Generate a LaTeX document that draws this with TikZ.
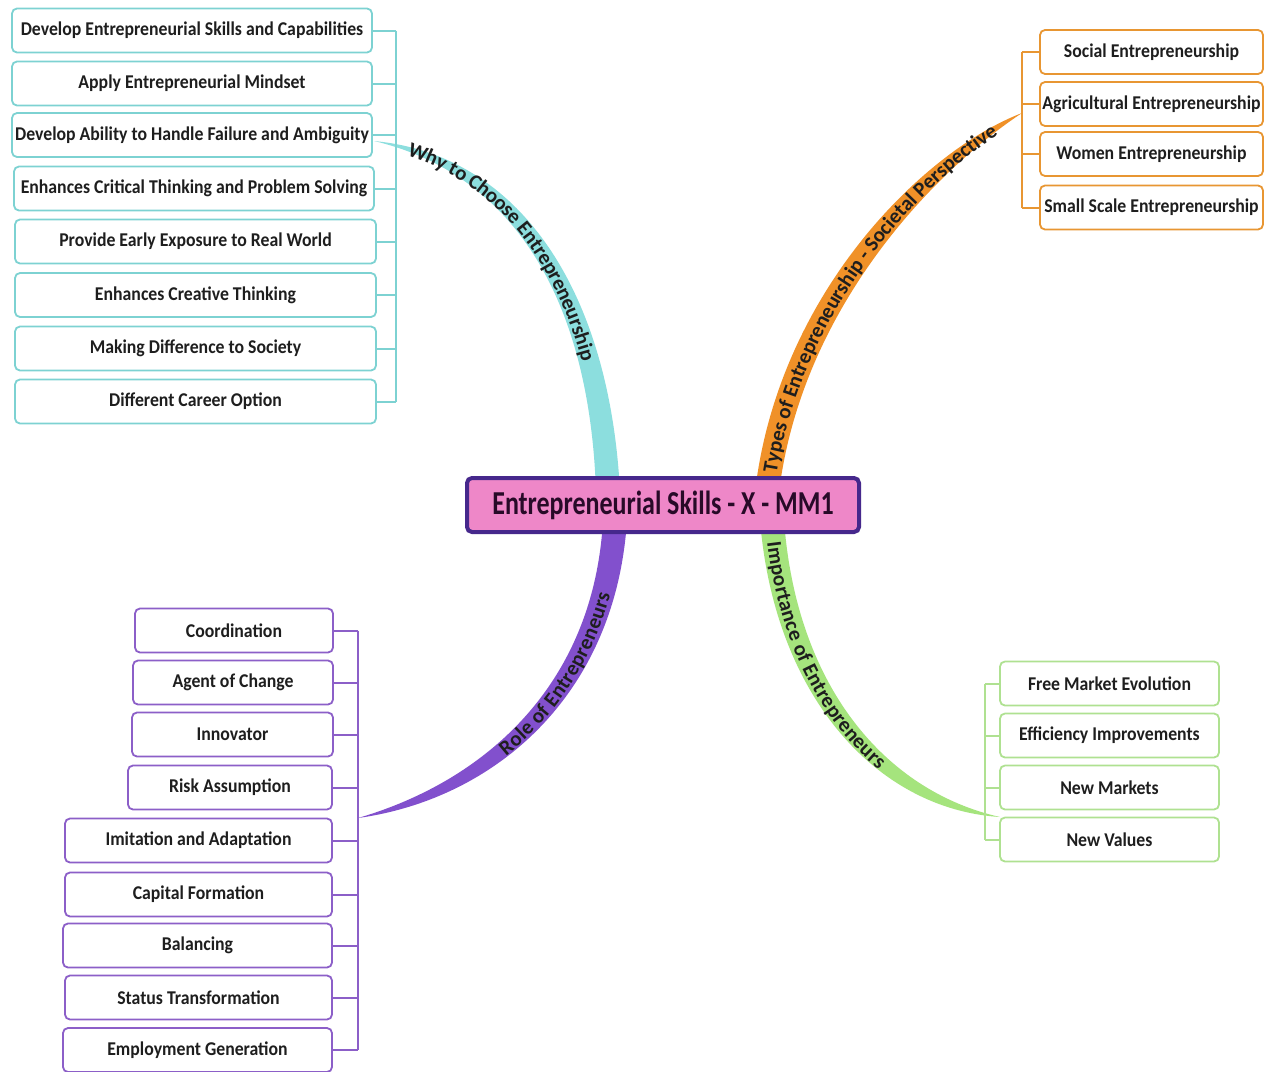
\documentclass[tikz,border=0pt]{standalone}
\usepackage{fontspec}
\setmainfont{Carlito}
\usepackage{graphicx}
\usetikzlibrary{decorations.text}
\definecolor{tealline}{RGB}{125,210,210}
\definecolor{tealband}{RGB}{140,222,222}
\definecolor{orangeline}{RGB}{232,150,50}
\definecolor{orangeband}{RGB}{240,145,40}
\definecolor{purpleline}{RGB}{140,95,200}
\definecolor{purpleband}{RGB}{130,80,205}
\definecolor{greenline}{RGB}{175,225,145}
\definecolor{greenband}{RGB}{165,228,125}
\definecolor{pinkc}{RGB}{238,135,200}
\definecolor{cborder}{RGB}{70,40,140}
\definecolor{textc}{RGB}{30,30,30}
\definecolor{ctext}{RGB}{40,10,40}
\newcommand{\sx}[1]{\scalebox{0.91}[1]{#1}}
\newcommand{\branchfont}{\bfseries\fontsize{21}{21}\selectfont}
\begin{document}
\begin{tikzpicture}[x=1pt,y=-1pt,
  leaf/.style={draw, rounded corners=5pt, line width=1.8pt, fill=white, inner sep=0pt,
    minimum height=44pt, text=textc, font=\bfseries\fontsize{19.5}{22}\selectfont},
  tleaf/.style={leaf, draw=tealline},
  oleaf/.style={leaf, draw=orangeline},
  pleaf/.style={leaf, draw=purpleline},
  gleaf/.style={leaf, draw=greenline},
  tbr/.style={draw=tealline, line width=2pt},
  obr/.style={draw=orangeline, line width=2pt},
  pbr/.style={draw=purpleline, line width=2pt},
  gbr/.style={draw=greenline, line width=2pt},
  central/.style={draw=cborder, line width=4pt, fill=pinkc, rounded corners=5pt,
    minimum width=392pt, minimum height=54pt, inner sep=0pt, text=ctext,
    font=\bfseries\fontsize{33.5}{36}\selectfont},
  blabel/.style={decorate, decoration={text along path, text color=textc, raise=-7pt}}
]
\useasboundingbox (0,0) rectangle (1276,1071);
\fill[white] (0,0) rectangle (1276,1071);

% tips of the branches
\coordinate (tT) at (374,141);
\coordinate (oT) at (1022,113);
\coordinate (pT) at (358,818);
\coordinate (gT) at (1000,817);
\coordinate (tbx) at (396,0);
\coordinate (obx) at (1022,0);
\coordinate (pbx) at (358,0);
\coordinate (gbx) at (985,0);

% branch bands
\fill[tealband] (596,492) .. controls (590,306) and (518,175) .. (tT)
  .. controls (522,155) and (610,294) .. (620,492) -- cycle;
\fill[orangeband] (755,492) .. controls (778,294) and (923,151) .. (oT)
  .. controls (937,169) and (802,306) .. (779,492) -- cycle;
\fill[purpleband] (pT) .. controls (495,799) and (616,695) .. (627,520)
  -- (603,520) .. controls (594,685) and (485,781) .. (pT) -- cycle;
\fill[greenband] (760,520) .. controls (774,694) and (875,809) .. (gT)
  .. controls (885,791) and (796,686) .. (784,520) -- cycle;

% branch labels
\path[blabel, decoration={text={|\branchfont|Why to Choose Entrepreneurship},
  text align={left, left indent=36pt}}]
  (tT) .. controls (520,165) and (600,300) .. (608,492);
\path[blabel, decoration={text={|\branchfont|Types of Entrepreneurship - Societal Perspective},
  text align={left, left indent=20pt}}]
  (767,492) .. controls (790,300) and (930,160) .. (oT);
\path[blabel, decoration={text={|\branchfont|Role of Entrepreneurs},
  text align={left, left indent=160pt}}]
  (pT) .. controls (490,790) and (605,690) .. (615,520);
\path[blabel, decoration={text={|\branchfont|Importance of Entrepreneurs},
  text align={left, left indent=22pt}}]
  (772,520) .. controls (785,690) and (880,800) .. (gT);

% teal leaves
\node[tleaf, minimum width=360pt] (t1) at (192,30.5) {\sx{Develop Entrepreneurial Skills and Capabilities}};
\node[tleaf, minimum width=360pt] (t2) at (192,83.5) {\sx{Apply Entrepreneurial Mindset}};
\node[tleaf, minimum width=360pt] (t3) at (192,135) {\sx{Develop Ability to Handle Failure and Ambiguity}};
\node[tleaf, minimum width=360pt] (t4) at (194,188.5) {\sx{Enhances Critical Thinking and Problem Solving}};
\node[tleaf, minimum width=361pt] (t5) at (195.5,241.5) {\sx{Provide Early Exposure to Real World}};
\node[tleaf, minimum width=361pt] (t6) at (195.5,295) {\sx{Enhances Creative Thinking}};
\node[tleaf, minimum width=361pt] (t7) at (195.5,348.5) {\sx{Making Difference to Society}};
\node[tleaf, minimum width=361pt] (t8) at (195.5,401.5) {\sx{Different Career Option}};
\foreach \n in {t1,t2,t3,t4,t5,t6,t7,t8} \draw[tbr] (\n.east) -- (\n.east -| tbx);
\draw[tbr] (t1.east -| tbx) -- (t8.east -| tbx);

% orange leaves
\node[oleaf, minimum width=223pt] (o1) at (1151.5,52) {\sx{Social Entrepreneurship}};
\node[oleaf, minimum width=223pt] (o2) at (1151.5,104) {\sx{Agricultural Entrepreneurship}};
\node[oleaf, minimum width=223pt] (o3) at (1151.5,154) {\sx{Women Entrepreneurship}};
\node[oleaf, minimum width=223pt] (o4) at (1151.5,207.5) {\sx{Small Scale Entrepreneurship}};
\foreach \n in {o1,o2,o3,o4} \draw[obr] (\n.west) -- (\n.west -| obx);
\draw[obr] (o1.west -| obx) -- (o4.west -| obx);

% purple leaves
\node[pleaf, minimum width=198pt] (p1) at (234,630.5) {\sx{Coordination}};
\node[pleaf, minimum width=200pt] (p2) at (233,682.5) {\sx{Agent of Change}};
\node[pleaf, minimum width=201pt] (p3) at (232.5,734.5) {\sx{Innovator}};
\node[pleaf, minimum width=204pt] (p4) at (230,787.5) {\sx{Risk Assumption}};
\node[pleaf, minimum width=267pt] (p5) at (198.5,840.5) {\sx{Imitation and Adaptation}};
\node[pleaf, minimum width=267pt] (p6) at (198.5,894.5) {\sx{Capital Formation}};
\node[pleaf, minimum width=269pt] (p7) at (197.5,945.5) {\sx{Balancing}};
\node[pleaf, minimum width=267pt] (p8) at (198.5,997.5) {\sx{Status Transformation}};
\node[pleaf, minimum width=269pt] (p9) at (197.5,1050) {\sx{Employment Generation}};
\foreach \n in {p1,p2,p3,p4,p5,p6,p7,p8,p9} \draw[pbr] (\n.east) -- (\n.east -| pbx);
\draw[pbr] (p1.east -| pbx) -- (p9.east -| pbx);

% green leaves
\node[gleaf, minimum width=219pt] (g1) at (1109.5,683.5) {\sx{Free Market Evolution}};
\node[gleaf, minimum width=219pt] (g2) at (1109.5,735.5) {\sx{Efficiency Improvements}};
\node[gleaf, minimum width=219pt] (g3) at (1109.5,787.5) {\sx{New Markets}};
\node[gleaf, minimum width=219pt] (g4) at (1109.5,839.5) {\sx{New Values}};
\foreach \n in {g1,g2,g3,g4} \draw[gbr] (\n.west) -- (\n.west -| gbx);
\draw[gbr] (g1.west -| gbx) -- (g4.west -| gbx);

% central node
\node[central] (c) at (663,505) {\scalebox{0.775}[1]{Entrepreneurial Skills - X - MM1}};
\end{tikzpicture}
\end{document}
